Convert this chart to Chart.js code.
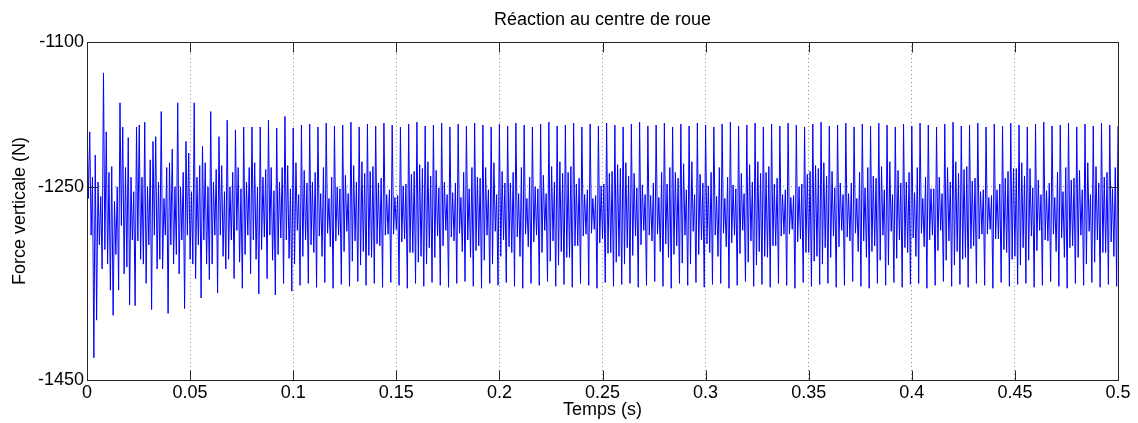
<!DOCTYPE html>
<html><head><meta charset="utf-8">
<script src="https://cdn.jsdelivr.net/npm/chart.js@4"></script>
<style>html,body{margin:0;padding:0;background:#fff;}canvas{display:block;}</style>
</head><body>
<canvas id="c" width="1138" height="423"></canvas>
<script>
const chartTitle = 'Réaction au centre de roue';
const xAxisTitle = 'Temps (s)';
const yAxisTitle = 'Force verticale (N)';
const xTickValues = [0, 0.05, 0.1, 0.15, 0.2, 0.25, 0.3, 0.35, 0.4, 0.45, 0.5];
const xTickLabels = ['0', '0.05', '0.1', '0.15', '0.2', '0.25', '0.3', '0.35', '0.4', '0.45', '0.5'];
const yTickValues = [-1450, -1250, -1100];
const yTickLabels = ['-1450', '-1250', '-1100'];
const sampleStep = 1 / 1500; // s between samples (6 samples per 4 ms cycle)

// Force (N), 0 .. 0.1 s
const force0to01 = [
-1181,-1262,-1193,-1300,-1240,-1427, -1217,-1388,-1245,-1310,-1260,-1335,
-1132,-1315,-1193,-1330,-1235,-1357, -1229,-1383,-1265,-1320,-1250,-1357,
-1163,-1290,-1188,-1340,-1230,-1333, -1199,-1372,-1240,-1305,-1255,-1373,
-1188,-1306,-1186,-1325,-1240,-1330, -1183,-1350,-1250,-1310,-1222,-1377,
-1203,-1300,-1198,-1335,-1245,-1325, -1172,-1335,-1262,-1300,-1230,-1381,
-1225,-1310,-1211,-1330,-1250,-1320, -1163,-1340,-1250,-1305,-1235,-1376,
-1203,-1300,-1215,-1325,-1255,-1330, -1163,-1345,-1240,-1310,-1228,-1365,
-1208,-1305,-1225,-1330,-1250,-1346, -1172,-1330,-1245,-1300,-1232,-1360,
-1198,-1300,-1228,-1322,-1255,-1335, -1181,-1325,-1250,-1305,-1235,-1345,
-1191,-1295,-1230,-1328,-1252,-1355, -1188,-1320,-1245,-1300,-1230,-1340,
-1188,-1305,-1225,-1325,-1250,-1361, -1188,-1315,-1240,-1302,-1232,-1345,
-1181,-1300,-1230,-1326,-1254,-1362, -1189,-1320,-1245,-1303,-1230,-1350,
-1177,-1305,-1228,-1324,-1252,-1358
];
// 0.1 .. 0.2 s
const force01to02 = [
-1189,-1330,-1225,-1295,-1258,-1352, -1186,-1322,-1233,-1305,-1246,-1350,
-1185,-1310,-1245,-1318,-1235,-1354, -1188,-1301,-1257,-1322,-1230,-1349,
-1184,-1298,-1262,-1312,-1240,-1355, -1187,-1306,-1250,-1300,-1252,-1351,
-1186,-1317,-1238,-1296,-1257,-1353, -1183,-1327,-1228,-1306,-1245,-1348,
-1188,-1331,-1224,-1317,-1236,-1352, -1185,-1321,-1234,-1323,-1229,-1350,
-1187,-1309,-1246,-1311,-1241,-1354, -1184,-1300,-1258,-1299,-1253,-1349,
-1186,-1299,-1261,-1294,-1259,-1352, -1188,-1307,-1249,-1304,-1247,-1355,
-1185,-1318,-1237,-1318,-1234,-1350, -1183,-1328,-1227,-1322,-1231,-1353,
-1187,-1330,-1224,-1313,-1239,-1349, -1186,-1323,-1233,-1301,-1251,-1352,
-1184,-1311,-1245,-1295,-1258,-1354, -1188,-1302,-1256,-1306,-1246,-1350,
-1185,-1298,-1261,-1317,-1235,-1348, -1187,-1305,-1252,-1323,-1230,-1353,
-1184,-1316,-1240,-1311,-1241,-1355, -1186,-1326,-1230,-1300,-1253,-1350,
-1188,-1330,-1225,-1296,-1258,-1352
];
// 0.2 .. 0.3 s
const force02to03 = [
-1185,-1322,-1234,-1305,-1246,-1349, -1187,-1312,-1246,-1318,-1235,-1353,
-1184,-1302,-1257,-1322,-1230,-1355, -1186,-1299,-1262,-1312,-1240,-1350,
-1188,-1307,-1250,-1300,-1252,-1352, -1185,-1318,-1238,-1295,-1257,-1348,
-1183,-1327,-1229,-1306,-1245,-1353, -1187,-1331,-1224,-1317,-1236,-1351,
-1186,-1323,-1235,-1323,-1229,-1354, -1184,-1311,-1247,-1311,-1241,-1350,
-1188,-1301,-1258,-1299,-1253,-1352, -1185,-1298,-1262,-1294,-1259,-1355,
-1187,-1308,-1249,-1304,-1247,-1349, -1184,-1319,-1236,-1318,-1234,-1353,
-1186,-1328,-1227,-1322,-1231,-1351, -1188,-1330,-1225,-1313,-1239,-1350,
-1185,-1321,-1236,-1301,-1251,-1354, -1183,-1310,-1248,-1295,-1258,-1352,
-1187,-1300,-1259,-1306,-1246,-1348, -1186,-1299,-1261,-1317,-1235,-1353,
-1184,-1309,-1247,-1323,-1230,-1355, -1188,-1320,-1235,-1311,-1241,-1350,
-1185,-1329,-1226,-1300,-1253,-1352, -1187,-1330,-1224,-1296,-1258,-1349,
-1184,-1320,-1237,-1305,-1246,-1354
];
// 0.3 .. 0.4 s
const force03to04 = [
-1186,-1309,-1249,-1318,-1235,-1351, -1188,-1300,-1260,-1322,-1230,-1350,
-1185,-1298,-1262,-1312,-1240,-1355, -1183,-1308,-1248,-1300,-1252,-1352,
-1187,-1319,-1236,-1295,-1257,-1348, -1186,-1328,-1227,-1306,-1245,-1353,
-1184,-1331,-1224,-1317,-1236,-1351, -1188,-1322,-1235,-1323,-1229,-1354,
-1185,-1311,-1247,-1311,-1241,-1350, -1187,-1301,-1258,-1299,-1253,-1352,
-1184,-1299,-1261,-1294,-1259,-1355, -1186,-1307,-1250,-1304,-1247,-1349,
-1188,-1318,-1237,-1318,-1234,-1353, -1185,-1327,-1228,-1322,-1231,-1351,
-1183,-1330,-1225,-1313,-1239,-1350, -1187,-1323,-1234,-1301,-1251,-1354,
-1186,-1312,-1246,-1295,-1258,-1352, -1184,-1302,-1257,-1306,-1246,-1348,
-1188,-1298,-1262,-1317,-1235,-1353, -1185,-1306,-1251,-1323,-1230,-1355,
-1187,-1317,-1239,-1311,-1241,-1350, -1184,-1326,-1229,-1300,-1253,-1352,
-1186,-1331,-1224,-1296,-1258,-1349, -1188,-1324,-1233,-1305,-1246,-1354,
-1185,-1313,-1245,-1318,-1235,-1351
];
// 0.4 .. 0.5 s
const force04to05 = [
-1187,-1303,-1256,-1322,-1230,-1350, -1184,-1298,-1262,-1312,-1240,-1355,
-1186,-1305,-1252,-1300,-1252,-1352, -1188,-1316,-1240,-1295,-1257,-1348,
-1185,-1326,-1230,-1306,-1245,-1353, -1183,-1331,-1224,-1317,-1236,-1351,
-1187,-1325,-1232,-1323,-1229,-1354, -1186,-1314,-1244,-1311,-1241,-1350,
-1184,-1304,-1255,-1299,-1253,-1352, -1188,-1299,-1261,-1294,-1259,-1355,
-1185,-1304,-1253,-1304,-1247,-1349, -1187,-1315,-1241,-1318,-1234,-1353,
-1184,-1325,-1231,-1322,-1231,-1351, -1186,-1331,-1225,-1313,-1239,-1350,
-1188,-1326,-1231,-1301,-1251,-1354, -1185,-1316,-1243,-1295,-1258,-1352,
-1183,-1305,-1254,-1306,-1246,-1348, -1187,-1299,-1261,-1317,-1235,-1353,
-1186,-1303,-1255,-1323,-1230,-1355, -1184,-1313,-1243,-1311,-1241,-1350,
-1188,-1323,-1233,-1300,-1253,-1352, -1185,-1330,-1225,-1296,-1258,-1349,
-1187,-1328,-1229,-1305,-1246,-1354, -1184,-1318,-1240,-1318,-1235,-1351,
-1186,-1307,-1252,-1322,-1230,-1353,
-1187
];

const forceSeries = [].concat(force0to01, force01to02, force02to03, force03to04, force04to05);
const points = forceSeries.map((v, i) => ({ x: i * sampleStep, y: v }));

const FONT = { family: '"Liberation Sans", Arial, Helvetica, sans-serif', size: 18, weight: 'normal' };

const framePlugin = {
  id: 'frame',
  afterDatasetsDraw(chart) {
    const { ctx, chartArea, scales } = chart;
    const l = Math.round(chartArea.left) + 0.5, r = Math.round(chartArea.right) + 0.5;
    const t = Math.round(chartArea.top) + 0.5, b = Math.round(chartArea.bottom) + 0.5;
    const tl = 10;
    ctx.save();
    ctx.strokeStyle = '#262626';
    ctx.lineWidth = 1;
    ctx.beginPath();
    scales.x.ticks.forEach(tk => {
      const px = Math.round(scales.x.getPixelForValue(tk.value)) + 0.5;
      ctx.moveTo(px, t); ctx.lineTo(px, t + tl);
      ctx.moveTo(px, b); ctx.lineTo(px, b - tl);
    });
    scales.y.ticks.forEach(tk => {
      const py = Math.round(scales.y.getPixelForValue(tk.value)) + 0.5;
      ctx.moveTo(l, py); ctx.lineTo(l + tl, py);
      ctx.moveTo(r, py); ctx.lineTo(r - tl, py);
    });
    ctx.stroke();
    ctx.strokeRect(l, t, r - l, b - t);
    ctx.restore();
  }
};

new Chart(document.getElementById('c'), {
  type: 'line',
  data: {
    datasets: [{
      data: points,
      borderColor: '#0000ff',
      borderWidth: 1,
      pointRadius: 0,
      tension: 0,
      fill: false
    }]
  },
  options: {
    responsive: false,
    animation: false,
    events: [],
    layout: { padding: { left: 0, right: 20, top: 0, bottom: 0 } },
    plugins: {
      legend: { display: false },
      tooltip: { enabled: false },
      title: {
        display: true, text: chartTitle, fullSize: false, color: '#000',
        font: FONT, padding: { top: 9, bottom: 11.4 }
      }
    },
    scales: {
      x: {
        type: 'linear', min: 0, max: 0.5,
        afterBuildTicks: s => { s.ticks = xTickValues.map(v => ({ value: v })); },
        afterFit: s => { s.height = 43; },
        ticks: { callback: (v, i) => xTickLabels[i], color: '#000', font: FONT, padding: 2, maxRotation: 0, autoSkip: false },
        grid: { color: '#8a8a8a', lineWidth: 1, drawTicks: false },
        border: { display: false, dash: [1, 3] },
        title: { display: true, text: xAxisTitle, color: '#000', font: FONT, padding: { top: 0, bottom: 2 } }
      },
      y: {
        type: 'linear', min: -1450, max: -1100,
        afterBuildTicks: s => { s.ticks = yTickValues.map(v => ({ value: v })); },
        afterFit: s => { s.width = 87; },
        ticks: { callback: (v, i) => yTickLabels[i], color: '#000', font: FONT, padding: 3, autoSkip: false },
        grid: { color: '#8a8a8a', lineWidth: 1, drawTicks: false },
        border: { display: false, dash: [1, 3] },
        title: { display: true, text: yAxisTitle, color: '#000', font: FONT, padding: { top: 9, bottom: 0 } }
      }
    }
  },
  plugins: [framePlugin]
});
</script>
</body></html>
